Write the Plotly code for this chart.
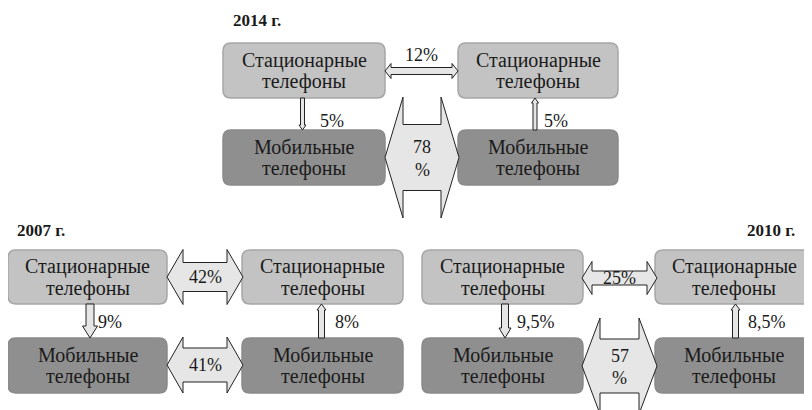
import plotly.graph_objects as go

# -------------------------------
# DATA
# -------------------------------
years = ["2014 г.", "2007 г.", "2010 г."]
fixed_label = ["Стационарные", "телефоны"]
mobile_label = ["Мобильные", "телефоны"]
fixed_to_fixed = ["12%", "42%", "25%"]
fixed_to_mobile = ["5%", "9%", "9,5%"]
mobile_to_fixed = ["5%", "8%", "8,5%"]
mobile_to_mobile = [["78", "%"], ["41%"], ["57", "%"]]

# -------------------------------
# LAYOUT OF THE THREE PANELS (pixels, y down)
# -------------------------------
panels = [
    dict(title=(231, 20, "left"), lx=(223, 385), rx=(458, 618), ty=(43, 98), by=(130, 185),
         top_arrow=dict(yc=71, hh=7.5, sh=3.5, hl=6, x0=385, x1=458, ty=55),
         bot_arrow=dict(yc=157.5, hh=60.5, sh=33, hl=18, x0=385, x1=459),
         down=dict(xc=302.5, sw=2, hw=3.5, hl=5, tx=332),
         up=dict(xc=535, sw=2, hw=3.5, hl=5, tx=556), vy=121),
    dict(title=(15, 230, "left"), lx=(8, 167), rx=(242, 403), ty=(250, 304), by=(338, 393),
         top_arrow=dict(yc=277, hh=27.5, sh=14.5, hl=16, x0=167, x1=243),
         bot_arrow=dict(yc=365, hh=28, sh=17, hl=16, x0=167, x1=243),
         down=dict(xc=90, sw=4, hw=7.5, hl=12, tx=110),
         up=dict(xc=321.5, sw=3, hw=4.5, hl=6, tx=347), vy=322),
    dict(title=(797, 230, "right"), lx=(422, 583), rx=(655, 813), ty=(250, 304), by=(338, 393),
         top_arrow=dict(yc=278, hh=16.5, sh=7, hl=10, x0=582, x1=657),
         bot_arrow=dict(yc=366, hh=48, sh=27, hl=18, x0=582, x1=657),
         down=dict(xc=505, sw=3.5, hw=6, hl=10, tx=536),
         up=dict(xc=735.5, sw=3, hw=4.5, hl=6, tx=767), vy=322),
]

FONT = "Liberation Serif"
TOP_FILL, TOP_LINE = "#c3c3c3", "#a6a6a6"
BOT_FILL, BOT_LINE = "#8f8f8f", "#8a8a8a"
ARROW_FILL = "#e6e6e6"

# page body has an 8px margin; the figure is sized so data units == window pixels
PAGE_MARGIN = 8


def rounded_rect(x0, x1, y0, y1, r=8):
    return (f"M {x0+r},{y0} L {x1-r},{y0} Q {x1},{y0} {x1},{y0+r} "
            f"L {x1},{y1-r} Q {x1},{y1} {x1-r},{y1} L {x0+r},{y1} "
            f"Q {x0},{y1} {x0},{y1-r} L {x0},{y0+r} Q {x0},{y0} {x0+r},{y0} Z")


def h_double_arrow(x0, x1, yc, hh, sh, hl):
    pts = [(x0, yc), (x0+hl, yc-hh), (x0+hl, yc-sh), (x1-hl, yc-sh), (x1-hl, yc-hh),
           (x1, yc), (x1-hl, yc+hh), (x1-hl, yc+sh), (x0+hl, yc+sh), (x0+hl, yc+hh)]
    return "M " + " L ".join(f"{x},{y}" for x, y in pts) + " Z"


def v_arrow(xc, y_from, y_to, sw, hw, hl):
    # tip at y_to
    d = 1 if y_to > y_from else -1
    yb = y_to - d*hl
    pts = [(xc-sw, y_from), (xc+sw, y_from), (xc+sw, yb), (xc+hw, yb), (xc, y_to),
           (xc-hw, yb), (xc-sw, yb)]
    return "M " + " L ".join(f"{x},{y}" for x, y in pts) + " Z"


fig = go.Figure()
shapes = []
annotations = []


def add_text(x, y, text, size=20, bold=False, xanchor="center"):
    annotations.append(dict(
        x=x, y=y, xref="x", yref="y", text=f"<b>{text}</b>" if bold else text,
        showarrow=False, xanchor=xanchor, yanchor="middle",
        font=dict(family=FONT, size=size, color="#1a1a1a")))


def box_label(x0, x1, y0, y1, lines):
    xc = (x0 + x1) / 2
    yc = (y0 + y1) / 2
    add_text(xc, yc - 10.5, lines[0])
    add_text(xc, yc + 11, lines[1])


for i, p in enumerate(panels):
    tx, ty, anchor = p["title"]
    add_text(tx, ty, years[i], size=17, bold=True, xanchor=anchor)

    # boxes
    for bx in (p["lx"], p["rx"]):
        shapes.append(dict(type="path", path=rounded_rect(bx[0], bx[1], *p["ty"]),
                           fillcolor=TOP_FILL, line=dict(color=TOP_LINE, width=1.5)))
        box_label(bx[0], bx[1], *p["ty"], fixed_label)
        shapes.append(dict(type="path", path=rounded_rect(bx[0], bx[1], *p["by"]),
                           fillcolor=BOT_FILL, line=dict(color=BOT_LINE, width=1.5)))
        box_label(bx[0], bx[1], *p["by"], mobile_label)

    # horizontal arrows
    ta = p["top_arrow"]
    shapes.append(dict(type="path",
                       path=h_double_arrow(ta["x0"], ta["x1"], ta["yc"], ta["hh"], ta["sh"], ta["hl"]),
                       fillcolor=ARROW_FILL, line=dict(color="#222222", width=1)))
    add_text((ta["x0"] + ta["x1"]) / 2, ta.get("ty", ta["yc"]), fixed_to_fixed[i], size=18)

    ba = p["bot_arrow"]
    shapes.append(dict(type="path",
                       path=h_double_arrow(ba["x0"], ba["x1"], ba["yc"], ba["hh"], ba["sh"], ba["hl"]),
                       fillcolor=ARROW_FILL, line=dict(color="#222222", width=1)))
    mm = mobile_to_mobile[i]
    bxc = (ba["x0"] + ba["x1"]) / 2
    if len(mm) == 1:
        add_text(bxc, ba["yc"], mm[0], size=18)
    else:
        add_text(bxc, ba["yc"] - 10.5, mm[0], size=18)
        add_text(bxc, ba["yc"] + 12, mm[1], size=18)

    # vertical arrows
    dn = p["down"]
    shapes.append(dict(type="path",
                       path=v_arrow(dn["xc"], p["ty"][1], p["by"][0], dn["sw"], dn["hw"], dn["hl"]),
                       fillcolor=ARROW_FILL, line=dict(color="#222222", width=1)))
    add_text(dn["tx"], p["vy"], fixed_to_mobile[i], size=18)

    up = p["up"]
    shapes.append(dict(type="path",
                       path=v_arrow(up["xc"], p["by"][0], p["ty"][1], up["sw"], up["hw"], up["hl"]),
                       fillcolor=ARROW_FILL, line=dict(color="#222222", width=1)))
    add_text(up["tx"], p["vy"], mobile_to_fixed[i], size=18)

fig.update_layout(
    width=812 - PAGE_MARGIN, height=410 - PAGE_MARGIN,
    margin=dict(l=0, r=0, t=0, b=0),
    paper_bgcolor="white", plot_bgcolor="white",
    xaxis=dict(range=[PAGE_MARGIN, 812], visible=False, fixedrange=True),
    yaxis=dict(range=[410, PAGE_MARGIN], visible=False, fixedrange=True),
    shapes=shapes, annotations=annotations, showlegend=False,
)

fig.write_html("out.html")
